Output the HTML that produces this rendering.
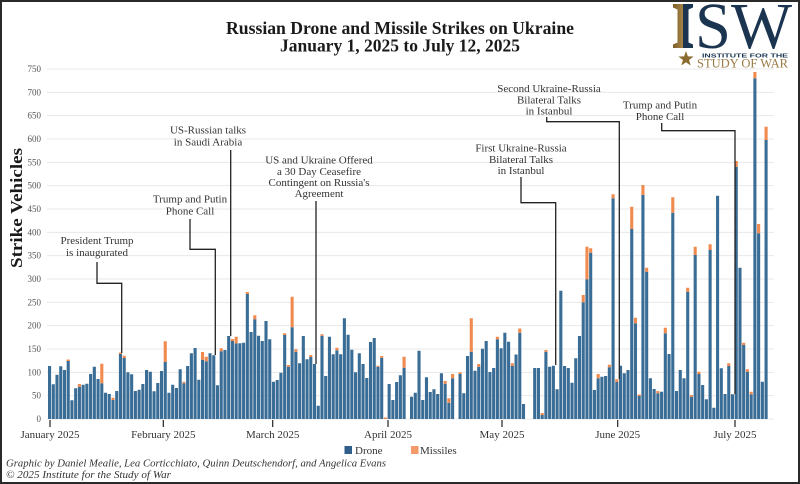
<!DOCTYPE html>
<html><head><meta charset="utf-8">
<style>html,body{margin:0;padding:0;background:#fff}svg{display:block}</style>
</head><body>
<svg xmlns="http://www.w3.org/2000/svg" width="800" height="484" viewBox="0 0 800 484">
<defs>
<linearGradient id="ig" x1="0" y1="0" x2="1" y2="0">
<stop offset="0" stop-color="#7d5f28"/><stop offset="0.5" stop-color="#a58446"/><stop offset="0.5" stop-color="#1b3550"/><stop offset="1" stop-color="#1b3550"/>
</linearGradient>
</defs>
<rect width="800" height="484" fill="#fff"/>
<!-- Title -->
<text x="400" y="34" text-anchor="middle" font-family="'Liberation Serif',serif" font-weight="bold" font-size="17.5" fill="#1a1a1a" textLength="348" lengthAdjust="spacingAndGlyphs">Russian Drone and Missile Strikes on Ukraine</text>
<text x="400" y="51.5" text-anchor="middle" font-family="'Liberation Serif',serif" font-weight="bold" font-size="17.5" fill="#1a1a1a" textLength="240" lengthAdjust="spacingAndGlyphs">January 1, 2025 to July 12, 2025</text>
<!-- Logo -->
<path d="M673 4H693V7.5L688.5 9.5V42.5L693 44.5V48H673V44.5L677.5 42.5V9.5L673 7.5Z" fill="url(#ig)"/>
<text x="695" y="48" font-family="'Liberation Serif',serif" font-size="66" fill="#1b3550" textLength="97" lengthAdjust="spacingAndGlyphs">SW</text>
<polygon points="686,51 687.88,56.41 693.61,56.53 689.04,59.99 690.7,65.47 686,62.2 681.3,65.47 682.96,59.99 678.39,56.53 684.12,56.41" fill="#8b6a2e"/>
<text x="702" y="57.5" font-family="'Liberation Sans',sans-serif" font-weight="bold" font-size="5.5" fill="#1b3550" textLength="86" lengthAdjust="spacingAndGlyphs">INSTITUTE FOR THE</text>
<text x="697" y="67.5" font-family="'Liberation Serif',serif" font-size="13" fill="#9a7a44" textLength="91" lengthAdjust="spacingAndGlyphs">STUDY OF WAR</text>
<!-- Grid -->
<g stroke="#e8e8e8" stroke-width="1">
<line x1="47" y1="419" x2="774" y2="419"/>
<line x1="47" y1="395.67" x2="774" y2="395.67"/>
<line x1="47" y1="372.33" x2="774" y2="372.33"/>
<line x1="47" y1="349" x2="774" y2="349"/>
<line x1="47" y1="325.67" x2="774" y2="325.67"/>
<line x1="47" y1="302.33" x2="774" y2="302.33"/>
<line x1="47" y1="279" x2="774" y2="279"/>
<line x1="47" y1="255.67" x2="774" y2="255.67"/>
<line x1="47" y1="232.33" x2="774" y2="232.33"/>
<line x1="47" y1="209" x2="774" y2="209"/>
<line x1="47" y1="185.67" x2="774" y2="185.67"/>
<line x1="47" y1="162.33" x2="774" y2="162.33"/>
<line x1="47" y1="139" x2="774" y2="139"/>
<line x1="47" y1="115.67" x2="774" y2="115.67"/>
<line x1="47" y1="92.33" x2="774" y2="92.33"/>
<line x1="47" y1="69" x2="774" y2="69"/>
</g>
<!-- Y labels -->
<g font-family="'Liberation Serif',serif" font-size="9" fill="#555" text-anchor="end">
<text x="41" y="422">0</text>
<text x="41" y="398.67">50</text>
<text x="41" y="375.33">100</text>
<text x="41" y="352">150</text>
<text x="41" y="328.67">200</text>
<text x="41" y="305.33">250</text>
<text x="41" y="282">300</text>
<text x="41" y="258.67">350</text>
<text x="41" y="235.33">400</text>
<text x="41" y="212">450</text>
<text x="41" y="188.67">500</text>
<text x="41" y="165.33">550</text>
<text x="41" y="142">600</text>
<text x="41" y="118.67">650</text>
<text x="41" y="95.33">700</text>
<text x="41" y="72">750</text>
</g>
<text transform="translate(22,208) rotate(-90)" text-anchor="middle" font-family="'Liberation Serif',serif" font-weight="bold" font-size="17" fill="#1a1a1a" textLength="120" lengthAdjust="spacingAndGlyphs">Strike Vehicles</text>
<!-- Bars: drone -->
<path fill="#3a6d96" d="M48 419h3.1v-53h-3.1zM51.73 419h3.1v-34.7h-3.1zM55.46 419h3.1v-44.3h-3.1zM59.2 419h3.1v-52.7h-3.1zM62.93 419h3.1v-49h-3.1zM66.66 419h3.1v-58h-3.1zM70.39 419h3.1v-18.7h-3.1zM74.12 419h3.1v-30.7h-3.1zM77.86 419h3.1v-32.3h-3.1zM81.59 419h3.1v-34.3h-3.1zM85.32 419h3.1v-35.3h-3.1zM89.05 419h3.1v-45h-3.1zM92.78 419h3.1v-52.3h-3.1zM96.52 419h3.1v-40h-3.1zM100.25 419h3.1v-35.7h-3.1zM103.98 419h3.1v-26.3h-3.1zM107.71 419h3.1v-25h-3.1zM111.44 419h3.1v-19h-3.1zM115.18 419h3.1v-28h-3.1zM118.91 419h3.1v-65h-3.1zM122.64 419h3.1v-61h-3.1zM126.37 419h3.1v-46.7h-3.1zM130.1 419h3.1v-44.7h-3.1zM133.84 419h3.1v-28h-3.1zM137.57 419h3.1v-29.3h-3.1zM141.3 419h3.1v-35h-3.1zM145.03 419h3.1v-49h-3.1zM148.76 419h3.1v-47.3h-3.1zM152.5 419h3.1v-27.7h-3.1zM156.23 419h3.1v-36h-3.1zM159.96 419h3.1v-48h-3.1zM163.69 419h3.1v-57h-3.1zM167.42 419h3.1v-26.3h-3.1zM171.16 419h3.1v-34.3h-3.1zM174.89 419h3.1v-31h-3.1zM178.62 419h3.1v-49.7h-3.1zM182.35 419h3.1v-35.7h-3.1zM186.08 419h3.1v-53h-3.1zM189.82 419h3.1v-65.7h-3.1zM193.55 419h3.1v-71h-3.1zM197.28 419h3.1v-39.3h-3.1zM201.01 419h3.1v-59.3h-3.1zM204.74 419h3.1v-57.7h-3.1zM208.48 419h3.1v-65.7h-3.1zM212.21 419h3.1v-63.7h-3.1zM215.94 419h3.1v-33.7h-3.1zM219.67 419h3.1v-67.7h-3.1zM223.4 419h3.1v-69h-3.1zM227.14 419h3.1v-83h-3.1zM230.87 419h3.1v-78h-3.1zM234.6 419h3.1v-75.7h-3.1zM238.33 419h3.1v-75.7h-3.1zM242.06 419h3.1v-76.3h-3.1zM245.8 419h3.1v-125h-3.1zM249.53 419h3.1v-87h-3.1zM253.26 419h3.1v-99.7h-3.1zM256.99 419h3.1v-83.3h-3.1zM260.72 419h3.1v-78h-3.1zM264.46 419h3.1v-98h-3.1zM268.19 419h3.1v-79.7h-3.1zM271.92 419h3.1v-37.3h-3.1zM275.65 419h3.1v-39h-3.1zM279.38 419h3.1v-46.3h-3.1zM283.12 419h3.1v-84h-3.1zM286.85 419h3.1v-52.3h-3.1zM290.58 419h3.1v-91.7h-3.1zM294.31 419h3.1v-67.3h-3.1zM298.04 419h3.1v-55.7h-3.1zM301.78 419h3.1v-83h-3.1zM305.51 419h3.1v-59.7h-3.1zM309.24 419h3.1v-62h-3.1zM312.97 419h3.1v-55h-3.1zM316.7 419h3.1v-13.3h-3.1zM320.44 419h3.1v-83.3h-3.1zM324.17 419h3.1v-43h-3.1zM327.9 419h3.1v-82.3h-3.1zM331.63 419h3.1v-64.7h-3.1zM335.36 419h3.1v-68.7h-3.1zM339.1 419h3.1v-64.7h-3.1zM342.83 419h3.1v-100.7h-3.1zM346.56 419h3.1v-84.3h-3.1zM350.29 419h3.1v-69.3h-3.1zM354.02 419h3.1v-46.7h-3.1zM357.76 419h3.1v-65.7h-3.1zM361.49 419h3.1v-55h-3.1zM365.22 419h3.1v-41h-3.1zM368.95 419h3.1v-77h-3.1zM372.68 419h3.1v-81h-3.1zM376.42 419h3.1v-52.3h-3.1zM380.15 419h3.1v-61.3h-3.1zM387.61 419h3.1v-35h-3.1zM391.34 419h3.1v-19h-3.1zM395.08 419h3.1v-37h-3.1zM398.81 419h3.1v-43.7h-3.1zM402.54 419h3.1v-51.3h-3.1zM410 419h3.1v-22.3h-3.1zM413.74 419h3.1v-26.3h-3.1zM417.47 419h3.1v-68.3h-3.1zM421.2 419h3.1v-19h-3.1zM424.93 419h3.1v-41.7h-3.1zM428.66 419h3.1v-27h-3.1zM432.4 419h3.1v-29.7h-3.1zM436.13 419h3.1v-25h-3.1zM439.86 419h3.1v-45.7h-3.1zM443.59 419h3.1v-35.3h-3.1zM447.32 419h3.1v-16.3h-3.1zM451.06 419h3.1v-40.7h-3.1zM458.52 419h3.1v-45h-3.1zM462.25 419h3.1v-25.7h-3.1zM465.98 419h3.1v-63h-3.1zM469.72 419h3.1v-67.3h-3.1zM473.45 419h3.1v-48.3h-3.1zM477.18 419h3.1v-52.3h-3.1zM480.91 419h3.1v-70.3h-3.1zM484.64 419h3.1v-78h-3.1zM488.38 419h3.1v-47h-3.1zM492.11 419h3.1v-51h-3.1zM495.84 419h3.1v-79.7h-3.1zM499.57 419h3.1v-70.7h-3.1zM503.3 419h3.1v-86.3h-3.1zM507.04 419h3.1v-77.3h-3.1zM510.77 419h3.1v-53.3h-3.1zM514.5 419h3.1v-64.5h-3.1zM518.23 419h3.1v-86.3h-3.1zM521.96 419h3.1v-15h-3.1zM533.16 419h3.1v-51h-3.1zM536.89 419h3.1v-51h-3.1zM540.62 419h3.1v-4h-3.1zM544.36 419h3.1v-67.3h-3.1zM548.09 419h3.1v-52.3h-3.1zM551.82 419h3.1v-53.3h-3.1zM555.55 419h3.1v-29.7h-3.1zM559.28 419h3.1v-128.3h-3.1zM563.02 419h3.1v-53h-3.1zM566.75 419h3.1v-51h-3.1zM570.48 419h3.1v-36.3h-3.1zM574.21 419h3.1v-60.7h-3.1zM577.94 419h3.1v-83h-3.1zM581.68 419h3.1v-116.7h-3.1zM585.41 419h3.1v-139.7h-3.1zM589.14 419h3.1v-166.3h-3.1zM592.87 419h3.1v-29h-3.1zM596.6 419h3.1v-40.7h-3.1zM600.34 419h3.1v-42.3h-3.1zM604.07 419h3.1v-43h-3.1zM607.8 419h3.1v-51.7h-3.1zM611.53 419h3.1v-220.7h-3.1zM615.26 419h3.1v-37h-3.1zM619 419h3.1v-53.3h-3.1zM622.73 419h3.1v-45.7h-3.1zM626.46 419h3.1v-49h-3.1zM630.19 419h3.1v-190h-3.1zM633.92 419h3.1v-95.7h-3.1zM637.66 419h3.1v-23h-3.1zM641.39 419h3.1v-224h-3.1zM645.12 419h3.1v-147.3h-3.1zM648.85 419h3.1v-40.7h-3.1zM652.58 419h3.1v-30h-3.1zM656.32 419h3.1v-25.7h-3.1zM660.05 419h3.1v-27.3h-3.1zM663.78 419h3.1v-85.7h-3.1zM667.51 419h3.1v-65h-3.1zM671.24 419h3.1v-206.3h-3.1zM674.98 419h3.1v-28h-3.1zM678.71 419h3.1v-49h-3.1zM682.44 419h3.1v-40.7h-3.1zM686.17 419h3.1v-127.3h-3.1zM689.9 419h3.1v-22.3h-3.1zM693.64 419h3.1v-164h-3.1zM697.37 419h3.1v-45h-3.1zM701.1 419h3.1v-34h-3.1zM704.83 419h3.1v-19.7h-3.1zM708.56 419h3.1v-169h-3.1zM712.3 419h3.1v-11.3h-3.1zM716.03 419h3.1v-223.3h-3.1zM719.76 419h3.1v-50.7h-3.1zM723.49 419h3.1v-25h-3.1zM727.22 419h3.1v-53h-3.1zM730.96 419h3.1v-24.7h-3.1zM734.69 419h3.1v-252.3h-3.1zM738.42 419h3.1v-151.3h-3.1zM742.15 419h3.1v-74h-3.1zM745.88 419h3.1v-47.3h-3.1zM749.62 419h3.1v-24.7h-3.1zM753.35 419h3.1v-340.7h-3.1zM757.08 419h3.1v-185.7h-3.1zM760.81 419h3.1v-37.3h-3.1zM764.54 419h3.1v-279h-3.1z"/>
<!-- Bars: missiles -->
<path fill="#f08a4e" d="M66.66 359.5h3.1v1.5h-3.1zM77.86 384h3.1v2.7h-3.1zM100.25 363.7h3.1v19.6h-3.1zM111.44 397.7h3.1v2.3h-3.1zM118.91 352.5h3.1v1.5h-3.1zM122.64 355.7h3.1v2.3h-3.1zM163.69 341.3h3.1v20.7h-3.1zM182.35 381.7h3.1v1.6h-3.1zM201.01 352h3.1v7.7h-3.1zM204.74 356.7h3.1v4.6h-3.1zM219.67 348.3h3.1v3h-3.1zM230.87 339h3.1v2h-3.1zM234.6 336.7h3.1v6.6h-3.1zM245.8 292h3.1v2h-3.1zM253.26 315.3h3.1v4h-3.1zM283.12 333.3h3.1v1.7h-3.1zM286.85 365h3.1v1.7h-3.1zM290.58 296.7h3.1v30.6h-3.1zM294.31 349.3h3.1v2.4h-3.1zM309.24 355h3.1v2h-3.1zM320.44 334.3h3.1v1.4h-3.1zM335.36 347.7h3.1v2.6h-3.1zM376.42 365.7h3.1v1h-3.1zM380.15 356h3.1v1.7h-3.1zM383.88 417.5h3.1v1.5h-3.1zM402.54 356.7h3.1v11h-3.1zM443.59 381h3.1v2.7h-3.1zM447.32 398.3h3.1v4.4h-3.1zM451.06 374h3.1v4.3h-3.1zM458.52 372.3h3.1v1.7h-3.1zM469.72 318.3h3.1v33.4h-3.1zM477.18 364h3.1v2.7h-3.1zM495.84 336.7h3.1v2.6h-3.1zM510.77 363.3h3.1v2.4h-3.1zM518.23 328.5h3.1v4.2h-3.1zM540.62 413h3.1v2h-3.1zM544.36 350h3.1v1.7h-3.1zM581.68 295h3.1v7.3h-3.1zM585.41 246.7h3.1v32.6h-3.1zM589.14 248.3h3.1v4.4h-3.1zM596.6 374h3.1v4.3h-3.1zM607.8 364.7h3.1v2.6h-3.1zM611.53 194.3h3.1v4h-3.1zM615.26 379.3h3.1v2.7h-3.1zM630.19 206.7h3.1v22.3h-3.1zM633.92 317.7h3.1v5.6h-3.1zM637.66 394.5h3.1v1.5h-3.1zM641.39 185h3.1v10h-3.1zM645.12 267.7h3.1v4h-3.1zM656.32 391h3.1v2.3h-3.1zM663.78 327.7h3.1v5.6h-3.1zM671.24 197.3h3.1v15.4h-3.1zM686.17 287.7h3.1v4h-3.1zM689.9 395h3.1v1.7h-3.1zM693.64 246.7h3.1v8.3h-3.1zM697.37 371.7h3.1v2.3h-3.1zM708.56 244.3h3.1v5.7h-3.1zM727.22 363.3h3.1v2.7h-3.1zM734.69 161h3.1v5.7h-3.1zM742.15 342.7h3.1v2.3h-3.1zM745.88 369.3h3.1v2.4h-3.1zM749.62 391.7h3.1v2.6h-3.1zM753.35 72h3.1v6.3h-3.1zM757.08 224h3.1v9.3h-3.1zM764.54 126.7h3.1v13.3h-3.1z"/>
<!-- X ticks -->
<g stroke="#222" stroke-width="1.2">
<line x1="50" y1="420" x2="50" y2="427"/>
<line x1="163.3" y1="420" x2="163.3" y2="427"/>
<line x1="272.7" y1="420" x2="272.7" y2="427"/>
<line x1="388" y1="420" x2="388" y2="427"/>
<line x1="502" y1="420" x2="502" y2="427"/>
<line x1="617.7" y1="420" x2="617.7" y2="427"/>
<line x1="735" y1="420" x2="735" y2="427"/>
</g>
<g font-family="'Liberation Serif',serif" font-size="11" fill="#333" text-anchor="middle">
<text x="50" y="438">January 2025</text>
<text x="163.3" y="438">February 2025</text>
<text x="272.7" y="438">March 2025</text>
<text x="388" y="438">April 2025</text>
<text x="502" y="438">May 2025</text>
<text x="617.7" y="438">June 2025</text>
<text x="735" y="438">July 2025</text>
</g>
<!-- Annotations -->
<g fill="none" stroke="#222" stroke-width="1.3">
<path d="M97 262V283.3H121.7V353"/>
<path d="M190 219V249.3H215.3V355"/>
<path d="M230.7 150V336"/>
<path d="M316 201V364"/>
<path d="M521 177V202.7H555.7V365"/>
<path d="M546.7 117V121.7H619.3V379"/>
<path d="M661.7 123V130.7H735V394"/>
</g>
<g font-family="'Liberation Serif',serif" font-size="11" fill="#333" text-anchor="middle">
<text x="97" y="244.2">President Trump</text>
<text x="97" y="256.2">is inaugurated</text>
<text x="190" y="202.5">Trump and Putin</text>
<text x="190" y="214.5">Phone Call</text>
<text x="208" y="133.5">US-Russian talks</text>
<text x="208" y="145.5">in Saudi Arabia</text>
<text x="319" y="163.5">US and Ukraine Offered</text>
<text x="319" y="175">a 30 Day Ceasefire</text>
<text x="319" y="186">Contingent on Russia's</text>
<text x="319" y="197">Agreement</text>
<text x="521" y="151.5">First Ukraine-Russia</text>
<text x="521" y="163">Bilateral Talks</text>
<text x="521" y="174">in Istanbul</text>
<text x="549" y="92">Second Ukraine-Russia</text>
<text x="549" y="103.5">Bilateral Talks</text>
<text x="549" y="114.5">in Istanbul</text>
<text x="660" y="108.5">Trump and Putin</text>
<text x="660" y="120">Phone Call</text>
</g>
<!-- Legend -->
<rect x="344.5" y="446" width="7.5" height="8" fill="#2f5f8a"/>
<text x="355" y="454" font-family="'Liberation Serif',serif" font-size="11" fill="#333">Drone</text>
<rect x="411" y="446" width="7.5" height="8" fill="#f29a6a"/>
<text x="420" y="454" font-family="'Liberation Serif',serif" font-size="11" fill="#333">Missiles</text>
<!-- Footer -->
<text x="6" y="466.5" font-family="'Liberation Serif',serif" font-style="italic" font-size="11" fill="#333" textLength="380" lengthAdjust="spacingAndGlyphs">Graphic by Daniel Mealie, Lea Corticchiato, Quinn Deutschendorf, and Angelica Evans</text>
<text x="6" y="478" font-family="'Liberation Serif',serif" font-style="italic" font-size="11" fill="#333" textLength="165" lengthAdjust="spacingAndGlyphs">© 2025 Institute for the Study of War</text>
<!-- Border -->
<rect x="1" y="1" width="798" height="482" fill="none" stroke="#2a2a2a" stroke-width="2"/>
</svg>
</body></html>
